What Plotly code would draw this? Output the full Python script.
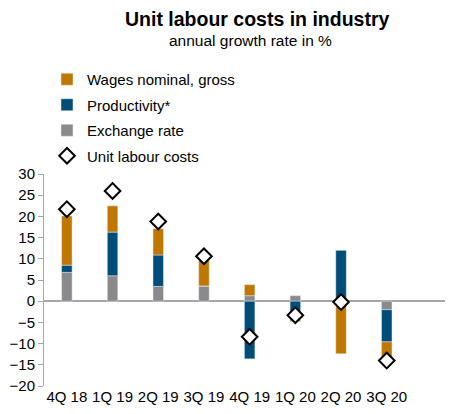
import plotly.graph_objects as go

# data
quarters = ['4Q 18', '1Q 19', '2Q 19', '3Q 19', '4Q 19', '1Q 20', '2Q 20', '3Q 20']
wages = [11.6, 6.2, 6.2, 6.4, 2.6, -0.6, -12.4, -4.6]
productivity = [1.7, 10.3, 7.4, 0.0, -13.6, -4.2, 12.0, -7.6]
exchange_rate = [6.8, 6.0, 3.5, 3.6, 1.3, 1.3, 0.0, -2.0]
unit_labour_costs = [21.7, 26.0, 18.8, 10.6, -8.4, -3.3, -0.2, -14.0]

FONT = 'Liberation Sans, Arial, sans-serif'
COLORS = {
    'wages': '#BF7700',
    'productivity': '#004D79',
    'exchange': '#8A8A8D',
}

# page body adds an 8px offset, so the figure is a bit smaller than the window
W, H = 445, 406
M_L, M_T, M_B = 36, 166, 28
PLOT_H = H - M_T - M_B

fig = go.Figure()

# Excel-style order: exchange at base, then productivity, then wages
fig.add_trace(go.Bar(x=quarters, y=exchange_rate, name='Exchange rate',
                     marker_color=COLORS['exchange'], width=0.23,
                     legendgroup='c', legendrank=3))
fig.add_trace(go.Bar(x=quarters, y=productivity, name='Productivity*',
                     marker_color=COLORS['productivity'], width=0.23,
                     legendgroup='b', legendrank=2))
fig.add_trace(go.Bar(x=quarters, y=wages, name='Wages nominal, gross',
                     marker_color=COLORS['wages'], width=0.23,
                     legendgroup='a', legendrank=1))
fig.add_trace(go.Scatter(x=quarters, y=unit_labour_costs, name='Unit labour costs',
                         mode='markers', legendgroup='d', legendrank=4,
                         marker={'symbol': 'diamond', 'size': 12, 'color': 'white',
                                 'line': {'color': 'black', 'width': 2}}))

fig.update_layout(
    barmode='relative',
    width=W, height=H,
    margin={'l': M_L, 'r': 0, 't': M_T, 'b': M_B, 'autoexpand': False},
    plot_bgcolor='white', paper_bgcolor='white',
    font={'family': FONT, 'size': 14, 'color': 'black'},
    showlegend=True,
    legend={
        'xref': 'container', 'yref': 'container',
        'x': 39 / W, 'y': 1 - 55 / H, 'xanchor': 'left', 'yanchor': 'top',
        'font': {'size': 15, 'family': FONT},
        'tracegroupgap': 3, 'bgcolor': 'rgba(0,0,0,0)',
        'itemwidth': 30,
    },
    annotations=[
        {'text': '<b>Unit labour costs in industry</b>', 'xref': 'paper', 'yref': 'paper',
         'x': 0.523, 'y': 1.0 + (M_T - 11) / PLOT_H, 'showarrow': False,
         'xanchor': 'center', 'yanchor': 'middle', 'font': {'size': 19.5}},
        {'text': 'annual growth rate in %', 'xref': 'paper', 'yref': 'paper',
         'x': 0.506, 'y': 1.0 + (M_T - 32) / PLOT_H, 'showarrow': False,
         'xanchor': 'center', 'yanchor': 'middle', 'font': {'size': 15.5}},
    ],
    xaxis={
        'range': [-0.5, 8.45], 'showgrid': False, 'showline': False,
        'zeroline': False, 'ticks': '', 'tickfont': {'size': 15},
        'automargin': False,
    },
    yaxis={
        'range': [-20, 30], 'dtick': 5, 'showgrid': False,
        'showline': True, 'linecolor': '#A6A6A6', 'linewidth': 1,
        'ticks': 'outside', 'ticklen': 5, 'tickcolor': '#A6A6A6',
        'zeroline': True, 'zerolinecolor': '#A6A6A6', 'zerolinewidth': 1.5,
        'tickfont': {'size': 15}, 'automargin': False,
    },
)

fig.write_html('out.html')
